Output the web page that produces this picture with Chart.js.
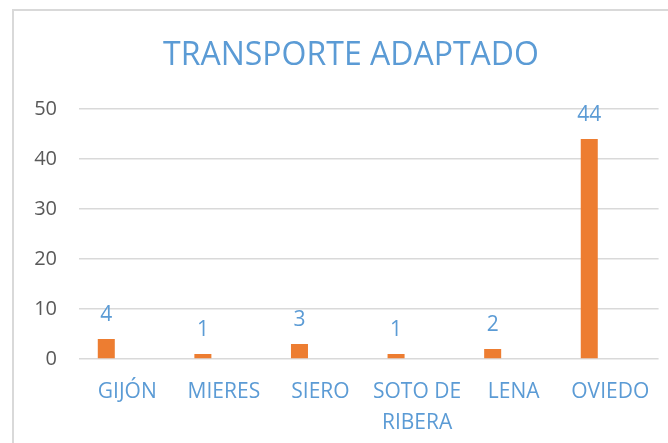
<!DOCTYPE html>
<html>
<head>
<meta charset="utf-8">
<script src="https://cdn.jsdelivr.net/npm/chart.js@4"></script>
<style>
  html, body { margin: 0; padding: 0; background: #fff; overflow: hidden; }
  #wrap { position: relative; width: 668px; height: 443px; }
  #frame { position: absolute; left: 12px; top: 9px; width: 700px; height: 500px;
           border-left: 2px solid #d9d9d9; border-top: 2px solid #d9d9d9; pointer-events: none; }
</style>
</head>
<body>
<div id="wrap">
  <canvas id="chart" width="668" height="443"></canvas>
  <div id="frame"></div>
</div>
<script>
const categories = ['GIJÓN', 'MIERES', 'SIERO', ['SOTO DE', 'RIBERA'], 'LENA', 'OVIEDO'];
const transporteValues = [4, 1, 3, 1, 2, 44];
const emptySeries = [null, null, null, null, null, null];
const yTicks = [0, 10, 20, 30, 40, 50];
const chartTitle = 'TRANSPORTE ADAPTADO';

const blue = '#5B9BD5';
const orange = '#ED7D31';
const fontFamily = '"Open Sans", "Noto Sans", sans-serif';

// draws the value above each bar of the first series
const valueLabels = {
    id: 'valueLabels',
    afterDatasetsDraw(chart) {
        const ctx = chart.ctx;
        const meta = chart.getDatasetMeta(0);
        ctx.save();
        ctx.font = '21px ' + fontFamily;
        ctx.fillStyle = blue;
        ctx.textAlign = 'center';
        ctx.textBaseline = 'middle';
        meta.data.forEach((bar, i) => {
            ctx.fillText(String(transporteValues[i]), bar.x, bar.y - 24);
        });
        ctx.restore();
    }
};

// title sits a bit right of the canvas centre, like the original frame
const offsetTitle = {
    id: 'offsetTitle',
    afterDraw(chart) {
        const ctx = chart.ctx;
        ctx.save();
        ctx.font = '32px ' + fontFamily;
        ctx.fillStyle = blue;
        ctx.textAlign = 'center';
        ctx.textBaseline = 'alphabetic';
        ctx.fillText(chartTitle, 351, 64.5);
        ctx.restore();
    }
};

new Chart(document.getElementById('chart'), {
    type: 'bar',
    data: {
        labels: categories,
        datasets: [
            {
                label: 'Transporte adaptado',
                data: transporteValues,
                backgroundColor: orange,
                categoryPercentage: 0.87,
                barPercentage: 0.405
            },
            {
                label: '',
                data: emptySeries,
                backgroundColor: orange,
                categoryPercentage: 0.87,
                barPercentage: 0.405
            }
        ]
    },
    options: {
        responsive: false,
        animation: false,
        layout: { padding: { left: 0, right: 9, top: 109, bottom: 0 } },
        plugins: {
            legend: { display: false },
            tooltip: { enabled: false },
            title: { display: false }
        },
        scales: {
            x: {
                grid: { display: false, drawTicks: false },
                border: { display: false },
                ticks: {
                    color: blue,
                    padding: 18,
                    maxRotation: 0,
                    autoSkip: false,
                    font: { family: fontFamily, size: 21, lineHeight: 1.45 }
                },
                afterFit(scale) { scale.height = 84; }
            },
            y: {
                min: 0,
                max: 50,
                afterBuildTicks(scale) { scale.ticks = yTicks.map(v => ({ value: v })); },
                grid: { color: '#d9d9d9', lineWidth: 1.5, drawTicks: false },
                border: { display: false },
                ticks: {
                    color: '#595959',
                    padding: 22,
                    font: { family: fontFamily, size: 20 }
                },
                afterFit(scale) { scale.width = 79; }
            }
        }
    },
    plugins: [valueLabels, offsetTitle]
});
</script>
</body>
</html>
